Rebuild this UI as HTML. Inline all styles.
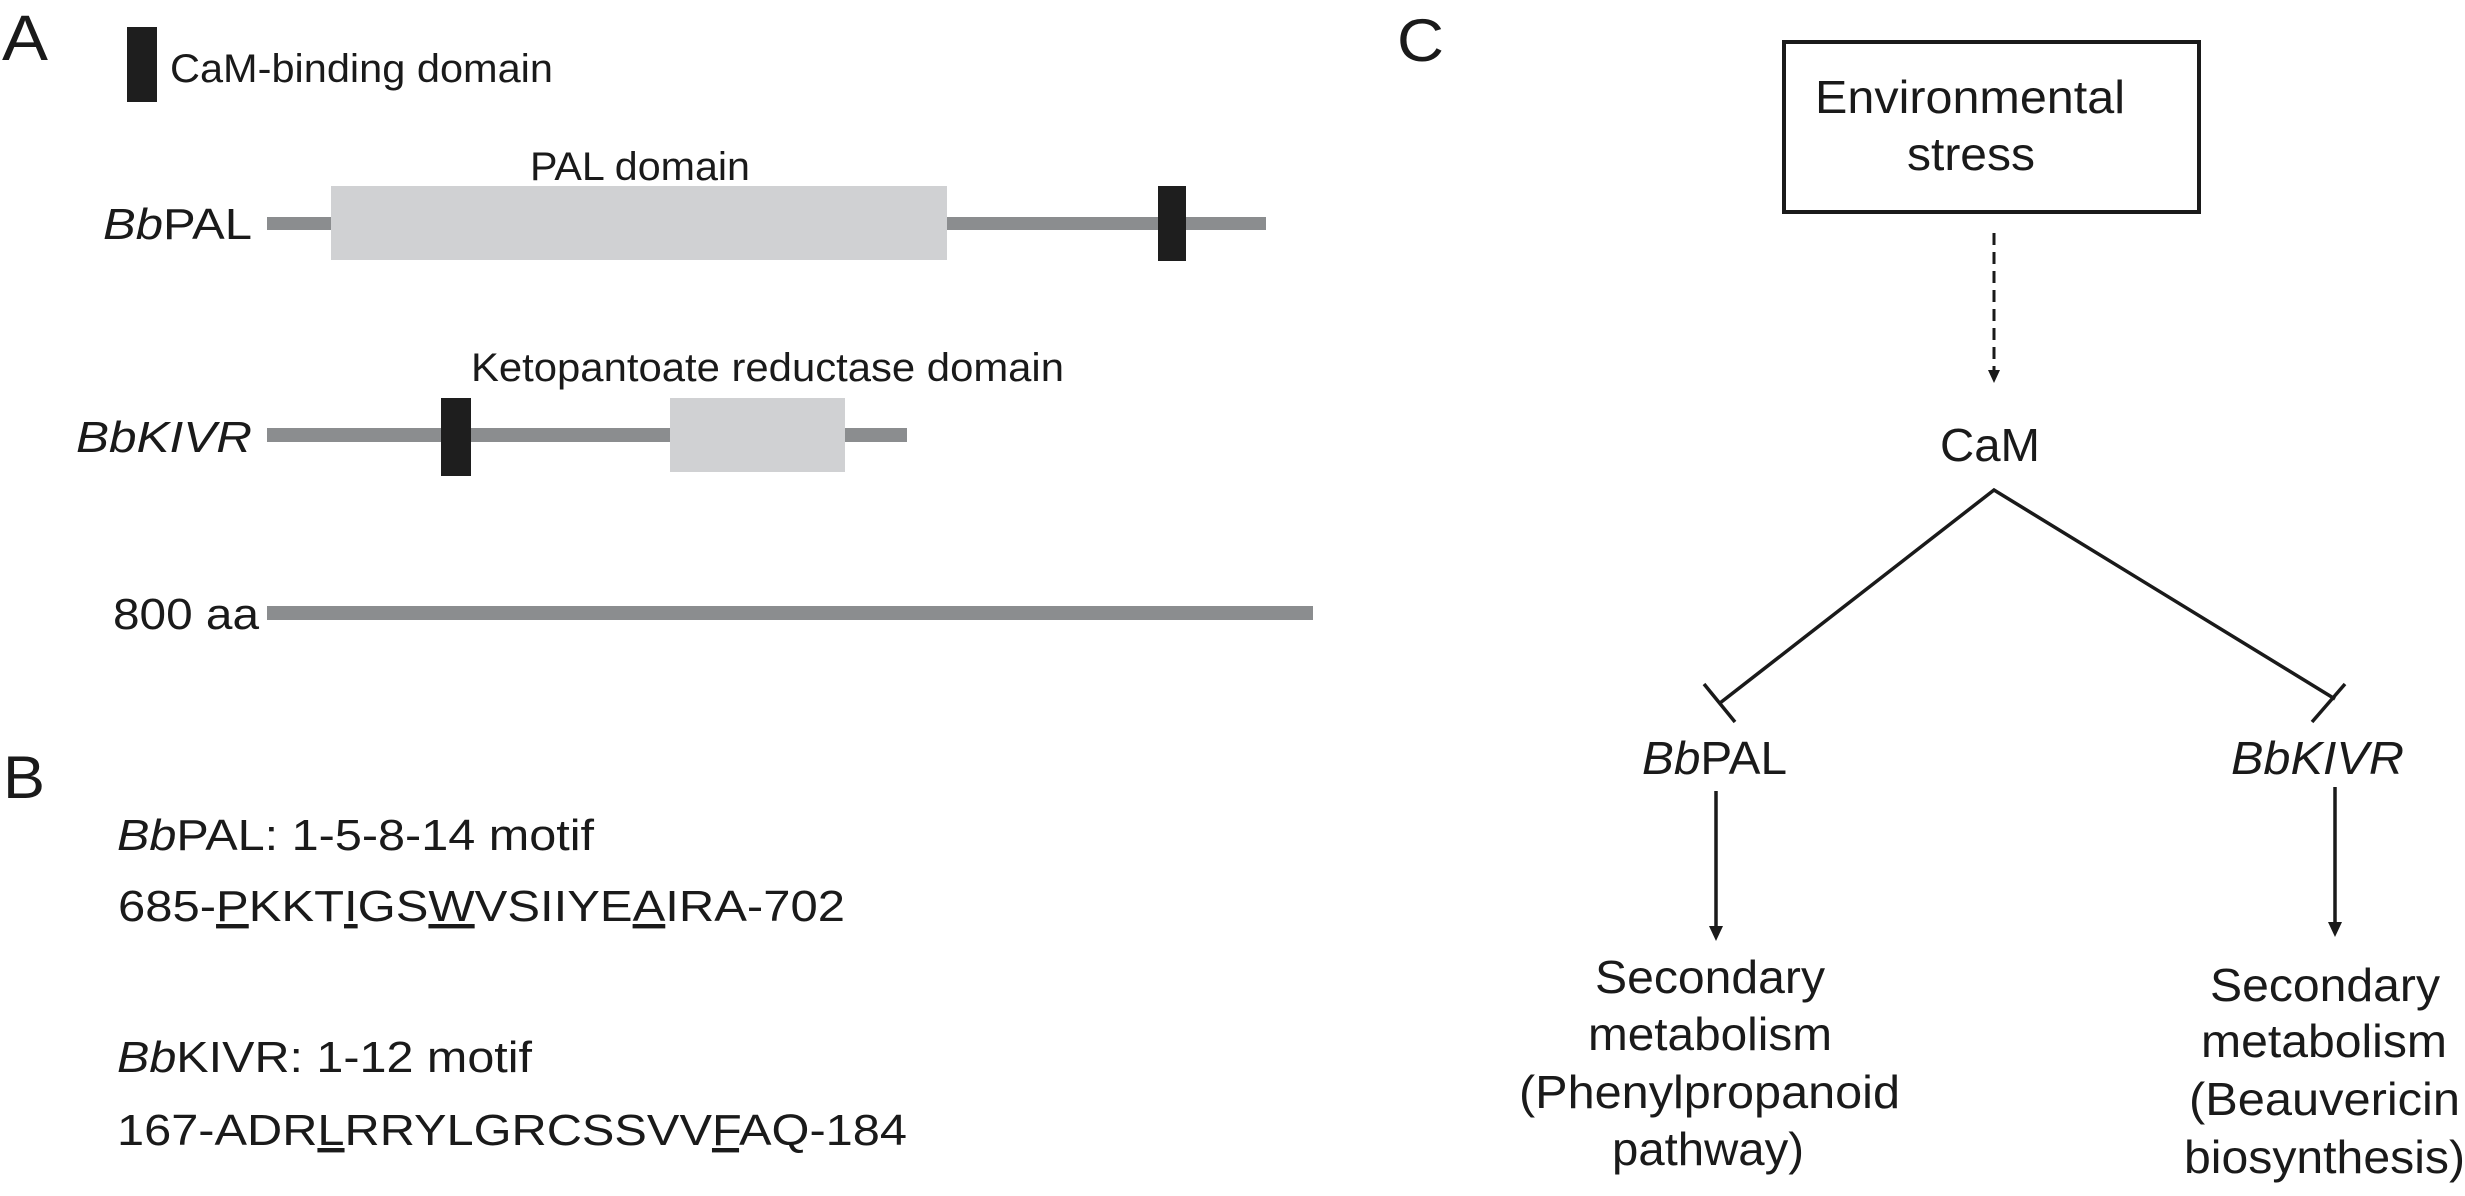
<!DOCTYPE html>
<html><head><meta charset="utf-8"><style>
html,body{margin:0;padding:0;background:#fff;}
svg{display:block;}
text{font-family:"Liberation Sans",Arial,sans-serif;fill:#1a1a1a;}
</style></head><body>
<svg width="2465" height="1196" viewBox="0 0 2465 1196" xmlns="http://www.w3.org/2000/svg">
<defs>
<marker id="ah" markerWidth="10" markerHeight="10" refX="5" refY="5" orient="auto" markerUnits="userSpaceOnUse">
<path d="M0,0 L10,5 L0,10 Z" fill="#1a1a1a"/>
</marker>
</defs>
<!-- Panel A -->
<text x="2" y="60" font-size="64" textLength="46" lengthAdjust="spacingAndGlyphs">A</text>
<rect x="127" y="27" width="30" height="75" fill="#1e1e1e"/>
<text x="170" y="82" font-size="40" textLength="383" lengthAdjust="spacingAndGlyphs">CaM-binding domain</text>

<text x="530" y="180" font-size="40" textLength="220" lengthAdjust="spacingAndGlyphs">PAL domain</text>
<rect x="267" y="217" width="999" height="13" fill="#8b8d8f"/>
<rect x="331" y="186" width="616" height="74" fill="#d0d1d3"/>
<rect x="1158" y="186" width="28" height="75" fill="#1e1e1e"/>
<text x="103" y="239" font-size="44" textLength="149" lengthAdjust="spacingAndGlyphs"><tspan font-style="italic">Bb</tspan>PAL</text>

<text x="471" y="381" font-size="40" textLength="593" lengthAdjust="spacingAndGlyphs">Ketopantoate reductase domain</text>
<rect x="267" y="428" width="640" height="14" fill="#8b8d8f"/>
<rect x="670" y="398" width="175" height="74" fill="#d0d1d3"/>
<rect x="441" y="398" width="30" height="78" fill="#1e1e1e"/>
<text x="76" y="452" font-size="44" font-style="italic" textLength="176" lengthAdjust="spacingAndGlyphs">BbKIVR</text>

<rect x="267" y="606" width="1046" height="14" fill="#8b8d8f"/>
<text x="113" y="629" font-size="44" textLength="146" lengthAdjust="spacingAndGlyphs">800 aa</text>

<!-- Panel B -->
<text x="3" y="798" font-size="60" textLength="42" lengthAdjust="spacingAndGlyphs">B</text>
<text x="117" y="850" font-size="44" textLength="477" lengthAdjust="spacingAndGlyphs"><tspan font-style="italic">Bb</tspan>PAL: 1-5-8-14 motif</text>
<text x="118" y="921" font-size="44" textLength="727" lengthAdjust="spacingAndGlyphs">685-<tspan text-decoration="underline">P</tspan>KKT<tspan text-decoration="underline">I</tspan>GS<tspan text-decoration="underline">W</tspan>VSIIYE<tspan text-decoration="underline">A</tspan>IRA-702</text>
<text x="117" y="1072" font-size="44" textLength="415" lengthAdjust="spacingAndGlyphs"><tspan font-style="italic">Bb</tspan>KIVR: 1-12 motif</text>
<text x="117" y="1145" font-size="44" textLength="790" lengthAdjust="spacingAndGlyphs">167-ADR<tspan text-decoration="underline">L</tspan>RRYLGRCSSVV<tspan text-decoration="underline">F</tspan>AQ-184</text>

<!-- Panel C -->
<text x="1397" y="61" font-size="60" textLength="47" lengthAdjust="spacingAndGlyphs">C</text>
<rect x="1784" y="42" width="415" height="170" fill="none" stroke="#1a1a1a" stroke-width="4"/>
<text x="1815" y="113" font-size="46" textLength="310" lengthAdjust="spacingAndGlyphs">Environmental</text>
<text x="1907" y="170" font-size="46" textLength="128" lengthAdjust="spacingAndGlyphs">stress</text>
<line x1="1994" y1="233" x2="1994" y2="372" stroke="#1a1a1a" stroke-width="3" stroke-dasharray="12,7"/>
<path d="M1988,370 L2000,370 L1994,383 Z" fill="#1a1a1a"/>
<text x="1940" y="461" font-size="46" textLength="100" lengthAdjust="spacingAndGlyphs">CaM</text>
<polyline points="1720,703 1994,490 2335,699" fill="none" stroke="#1a1a1a" stroke-width="3.5"/>
<line x1="1704" y1="684" x2="1735" y2="722" stroke="#1a1a1a" stroke-width="3.5"/>
<line x1="2345" y1="684" x2="2312" y2="722" stroke="#1a1a1a" stroke-width="3.5"/>
<text x="1642" y="774" font-size="46" textLength="145" lengthAdjust="spacingAndGlyphs"><tspan font-style="italic">Bb</tspan>PAL</text>
<text x="2231" y="774" font-size="46" font-style="italic" textLength="173" lengthAdjust="spacingAndGlyphs">BbKIVR</text>
<line x1="1716" y1="791" x2="1716" y2="928" stroke="#1a1a1a" stroke-width="3.5"/>
<path d="M1709,926 L1723,926 L1716,941 Z" fill="#1a1a1a"/>
<line x1="2335" y1="787" x2="2335" y2="924" stroke="#1a1a1a" stroke-width="3.5"/>
<path d="M2328,922 L2342,922 L2335,937 Z" fill="#1a1a1a"/>

<text x="1595" y="993" font-size="46" textLength="230" lengthAdjust="spacingAndGlyphs">Secondary</text>
<text x="1588" y="1050" font-size="46" textLength="244" lengthAdjust="spacingAndGlyphs">metabolism</text>
<text x="1519" y="1108" font-size="46" textLength="381" lengthAdjust="spacingAndGlyphs">(Phenylpropanoid</text>
<text x="1612" y="1165" font-size="46" textLength="192" lengthAdjust="spacingAndGlyphs">pathway)</text>

<text x="2210" y="1001" font-size="46" textLength="230" lengthAdjust="spacingAndGlyphs">Secondary</text>
<text x="2201" y="1057" font-size="46" textLength="246" lengthAdjust="spacingAndGlyphs">metabolism</text>
<text x="2189" y="1115" font-size="46" textLength="271" lengthAdjust="spacingAndGlyphs">(Beauvericin</text>
<text x="2184" y="1173" font-size="46" textLength="281" lengthAdjust="spacingAndGlyphs">biosynthesis)</text>
</svg>
</body></html>
